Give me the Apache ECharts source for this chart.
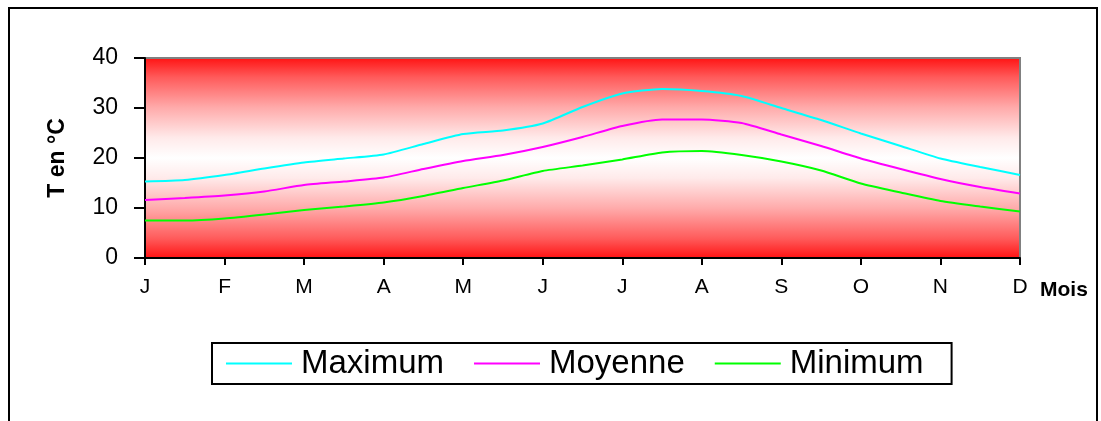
<!DOCTYPE html>
<html>
<head>
<meta charset="utf-8">
<script src="https://cdn.jsdelivr.net/npm/echarts@6/dist/echarts.min.js"></script>
<style>
html,body{margin:0;padding:0;background:#fff;}
#c{width:1101px;height:421px;}
</style>
</head>
<body>
<div id="c"></div>
<script>
// Month tick labels (one per month), data sampled every half month
var monthLabels = ['J','F','M','A','M','J','J','A','S','O','N','D'];
var seriesNames = ['Maximum','Moyenne','Minimum'];
var seriesColors = ['#00ffff','#ff00ff','#00ff00'];
var maximum = [15.3,15.6,16.6,17.9,19.1,19.9,20.7,22.8,24.8,25.5,26.9,30.2,32.9,33.8,33.4,32.4,30.0,27.6,24.9,22.4,19.9,18.2,16.6];
var moyenne = [11.6,12.0,12.5,13.3,14.6,15.3,16.1,17.8,19.4,20.6,22.2,24.2,26.4,27.7,27.7,27.0,24.7,22.4,19.9,17.8,15.8,14.2,12.9];
var minimum = [7.5,7.5,7.9,8.7,9.6,10.3,11.1,12.4,14.0,15.5,17.4,18.5,19.7,21.1,21.4,20.6,19.3,17.5,14.9,13.1,11.4,10.3,9.3];
var yTicks = [0,10,20,30,40];

var categories = [];
for (var i = 0; i < monthLabels.length; i++) {
  categories.push(monthLabels[i]);
  if (i < monthLabels.length - 1) categories.push('');
}
var allData = [maximum, moyenne, minimum];

var chart = echarts.init(document.getElementById('c'), null, {renderer:'canvas'});
var font = 'Liberation Sans, Arial, sans-serif';
var series = [];
var legendData = [];
for (var s = 0; s < seriesNames.length; s++) {
  series.push({name: seriesNames[s], type: 'line', data: allData[s], symbol: 'none', smooth: 0.2,
    lineStyle: {color: seriesColors[s], width: 2}, itemStyle: {color: seriesColors[s]}});
  legendData.push({name: seriesNames[s], icon: 'rect', itemStyle: {color: seriesColors[s]}});
}
var option = {
  animation: false,
  backgroundColor: '#ffffff',
  grid: {
    left: 145, top: 58, right: 81, bottom: 163,
    outerBoundsMode: 'none',
    show: true,
    borderColor: '#808080',
    borderWidth: 2,
    backgroundColor: {
      type: 'linear', x: 0, y: 0, x2: 0, y2: 1,
      colorStops: [
        {offset: 0, color: '#ff1010'},
        {offset: 0.1, color: '#ff5a5a'},
        {offset: 0.25, color: '#ffaaaa'},
        {offset: 0.4, color: '#ffeaea'},
        {offset: 0.5, color: '#ffffff'},
        {offset: 0.6, color: '#ffeaea'},
        {offset: 0.75, color: '#ffaaaa'},
        {offset: 0.9, color: '#ff5a5a'},
        {offset: 1, color: '#ff1010'}
      ]
    }
  },
  legend: {
    data: legendData,
    left: 212, top: 343,
    orient: 'horizontal',
    padding: [4, 28, 4, 14],
    itemGap: 30,
    itemWidth: 66,
    itemHeight: 2,
    borderColor: '#000',
    borderWidth: 2,
    backgroundColor: '#fff',
    textStyle: {fontFamily: font, fontSize: 33, color: '#000', padding: [0, 0, 0, 4]}
  },
  xAxis: {
    type: 'category',
    data: categories,
    boundaryGap: false,
    name: 'Mois',
    nameLocation: 'end',
    nameGap: 20,
    nameTextStyle: {fontFamily: font, fontSize: 21, fontWeight: 'bold', color: '#000', verticalAlign: 'top', padding: [22, 0, 0, 0], align: 'left'},
    axisLine: {show: true, lineStyle: {color: '#000', width: 2}},
    axisTick: {show: true, length: 7, interval: function (i) { return i % 2 === 0; }, lineStyle: {color: '#000', width: 2}},
    axisLabel: {interval: function (i) { return i % 2 === 0; }, fontFamily: font, fontSize: 21, color: '#000', margin: 19},
    splitLine: {show: false}
  },
  yAxis: {
    type: 'value',
    min: yTicks[0], max: yTicks[yTicks.length - 1], interval: 10,
    name: 'T en °C',
    nameLocation: 'middle',
    nameGap: 76,
    nameRotate: 90,
    nameTextStyle: {fontFamily: font, fontSize: 23, fontWeight: 'bold', color: '#000'},
    axisLine: {show: true, lineStyle: {color: '#000', width: 2}},
    axisTick: {show: true, length: 11, lineStyle: {color: '#000', width: 2}},
    axisLabel: {fontFamily: font, fontSize: 23, color: '#000', margin: 27},
    splitLine: {show: false}
  },
  series: series,
  graphic: [
    {type: 'rect', z: 100, silent: true, shape: {x: 9, y: 8, width: 1088, height: 500}, style: {fill: 'none', stroke: '#000', lineWidth: 2}}
  ]
};
chart.setOption(option);
</script>
</body>
</html>
